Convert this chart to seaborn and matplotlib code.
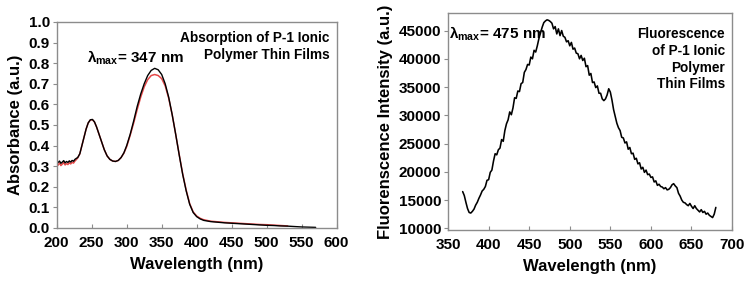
import numpy as np
import pandas as pd
import matplotlib
matplotlib.use("Agg")
import matplotlib.pyplot as plt
import seaborn as sns

# ---------------- data ----------------
abs_nm = [200, 202, 204, 206, 208, 210, 212, 214, 216, 218, 220, 222, 224, 226, 228, 230,
          233, 236, 239, 242, 245, 248, 251, 254, 257, 260, 264, 268, 272, 276, 280, 284,
          288, 292, 296, 300, 305, 310, 315, 320, 325, 330, 335, 340, 345, 350, 355, 360,
          365, 370, 375, 380, 385, 390, 395, 400, 405, 410, 420, 430, 440, 450, 460, 470,
          480, 490, 500, 510, 520, 530, 540, 550, 560, 570]
abs_black = [.322, .318, .325, .314, .320, .327, .316, .323, .318, .326, .320, .328, .324, .333, .338, .342,
             .36, .40, .44, .48, .51, .525, .527, .515, .49, .46, .42, .38, .35, .333, .325, .323,
             .328, .342, .365, .40, .455, .52, .59, .65, .70, .74, .765, .775, .768, .745, .70, .635,
             .55, .455, .355, .26, .18, .115, .075, .055, .044, .037, .031, .028, .025, .023, .021, .019,
             .017, .015, .013, .012, .010, .009, .007, .005, .004, .003]
abs_red = [.312, .305, .316, .303, .310, .318, .306, .313, .308, .317, .311, .319, .315, .325, .332, .340,
           .36, .40, .44, .48, .51, .524, .526, .514, .49, .46, .42, .38, .35, .333, .325, .323,
           .328, .342, .363, .395, .45, .51, .575, .635, .685, .72, .74, .745, .74, .725, .69, .63,
           .55, .455, .357, .263, .184, .118, .078, .058, .047, .040, .033, .030, .027, .025, .023, .021,
           .019, .017, .016, .014, .012, .010]

fl_nm = list(range(368, 682, 2))
fl_int = [16500, 15800, 14600, 13500, 12800, 12700, 13000, 13400, 14100, 14600,
          15300, 15900, 16600, 16900, 17400, 18500, 18600, 19900, 20300, 21900,
          23200, 23000, 23900, 24200, 25700, 25400, 27300, 28500, 29200, 30600,
          30100, 31300, 33100, 33000, 34300, 34200, 35600, 35800, 37600, 38100,
          39000, 38900, 40300, 40000, 41500, 41200, 42300, 43600, 44600, 45600,
          46400, 46700, 46900, 46800, 46600, 46300, 45300, 45700, 44400, 45300,
          44100, 45000, 44000, 43800, 43000, 43200, 42300, 42900, 41700, 41900,
          41000, 40900, 40000, 40600, 39700, 40100, 38600, 38800, 37100, 37400,
          35800, 35900, 34900, 35200, 33900, 33900, 32900, 32600, 32900, 33600,
          34700, 34100, 32700, 31000, 29800, 28600, 27800, 27300, 26100, 26000,
          25100, 25300, 24000, 24300, 23200, 23300, 22200, 22400, 21400, 21600,
          20500, 20800, 19900, 20300, 19500, 19600, 19000, 19100, 18200, 18400,
          17600, 17800, 17400, 17300, 17000, 17200, 16800, 16900, 17200, 17700,
          17900, 17500, 17200, 16200, 15700, 15000, 14600, 14500, 14200, 14000,
          14400, 13900, 13500, 14000, 13500, 13200, 12900, 13300, 12800, 13000,
          12500, 12700, 12300, 12100, 11900, 12500, 13700]

abs_xticks = [200, 250, 300, 350, 400, 450, 500, 550, 600]
abs_yticks = [0.0, 0.1, 0.2, 0.3, 0.4, 0.5, 0.6, 0.7, 0.8, 0.9, 1.0]
fl_xticks = [350, 400, 450, 500, 550, 600, 650, 700]
fl_yticks = [10000, 15000, 20000, 25000, 30000, 35000, 40000, 45000]

# ---------------- style ----------------
sns.set_style("white")
plt.rcParams['font.family'] = ['Liberation Sans', 'DejaVu Sans']
plt.rcParams['font.weight'] = 'bold'
plt.rcParams['text.color'] = 'black'
plt.rcParams['axes.labelcolor'] = 'black'
plt.rcParams['xtick.color'] = 'black'
plt.rcParams['ytick.color'] = 'black'
plt.rcParams['mathtext.fontset'] = 'custom'
plt.rcParams['mathtext.rm'] = 'Liberation Sans:bold'
plt.rcParams['mathtext.it'] = 'Liberation Sans:bold'
plt.rcParams['mathtext.bf'] = 'Liberation Sans:bold'

fig = plt.figure(figsize=(7.48, 2.87), dpi=100)
ax1 = fig.add_axes([0.0758, 0.2056, 0.3743, 0.7178])
ax2 = fig.add_axes([0.599, 0.1986, 0.3797, 0.756])

df_r = pd.DataFrame({"nm": abs_nm[:len(abs_red)], "A": abs_red})
df_b = pd.DataFrame({"nm": abs_nm, "A": abs_black})
sns.lineplot(data=df_r, x="nm", y="A", ax=ax1, color="#e02828", lw=1.1, alpha=0.85, estimator=None)
sns.lineplot(data=df_b, x="nm", y="A", ax=ax1, color="black", lw=1.0, estimator=None)

df_f = pd.DataFrame({"nm": fl_nm, "I": fl_int})
sns.lineplot(data=df_f, x="nm", y="I", ax=ax2, color="black", lw=1.15, estimator=None)

ax1.set_xlim(200, 600)
ax1.set_ylim(0, 1.0)
ax1.set_xticks(abs_xticks)
ax1.set_yticks(abs_yticks)
ax1.set_yticklabels([f"{v:.1f}" for v in abs_yticks])

ax2.set_xlim(350, 700)
ax2.set_ylim(9700, 48100)
ax2.set_xticks(fl_xticks)
ax2.set_yticks(fl_yticks)

for ax in (ax1, ax2):
    for s in ax.spines.values():
        s.set_color("#8c8c8c")
        s.set_linewidth(1.0)
    ax.tick_params(axis='x', direction='in', length=3, color="#8c8c8c", labelsize=11, pad=6,
                   bottom=True, labelcolor='black')
    ax.tick_params(axis='y', direction='out', length=3, color="#8c8c8c", labelsize=11, pad=2,
                   left=True, labelcolor='black')
    for lab in ax.get_xticklabels() + ax.get_yticklabels():
        lab.set_fontweight('bold')
    ax.set_xlabel("Wavelength (nm)", fontsize=12, fontweight='bold', labelpad=5, color='black')

ax1.set_ylabel("Absorbance (a.u.)", fontsize=12, fontweight='bold', labelpad=4, color='black')
ax2.set_ylabel("Fluorenscence Intensity (a.u.)", fontsize=12, fontweight='bold', labelpad=4, color='black')

ax1.text(0.975, 0.955, "Absorption of P-1 Ionic\nPolymer Thin Films", transform=ax1.transAxes,
         ha='right', va='top', fontsize=9.8, fontweight='bold', linespacing=1.25, color='black')
ax1.text(0.11, 0.825, r"$\lambda_{\mathrm{max}}$= 347 nm", transform=ax1.transAxes,
         ha='left', va='center', fontsize=11, fontweight='bold', color='black')

ax2.text(0.975, 0.935, "Fluorescence\nof P-1 Ionic\nPolymer\nThin Films", transform=ax2.transAxes,
         ha='right', va='top', fontsize=9.8, fontweight='bold', linespacing=1.25, color='black')
ax2.text(0.005, 0.905, r"$\lambda_{\mathrm{max}}$= 475 nm", transform=ax2.transAxes,
         ha='left', va='center', fontsize=11, fontweight='bold', color='black')

fig.savefig("out.png", dpi=100)
